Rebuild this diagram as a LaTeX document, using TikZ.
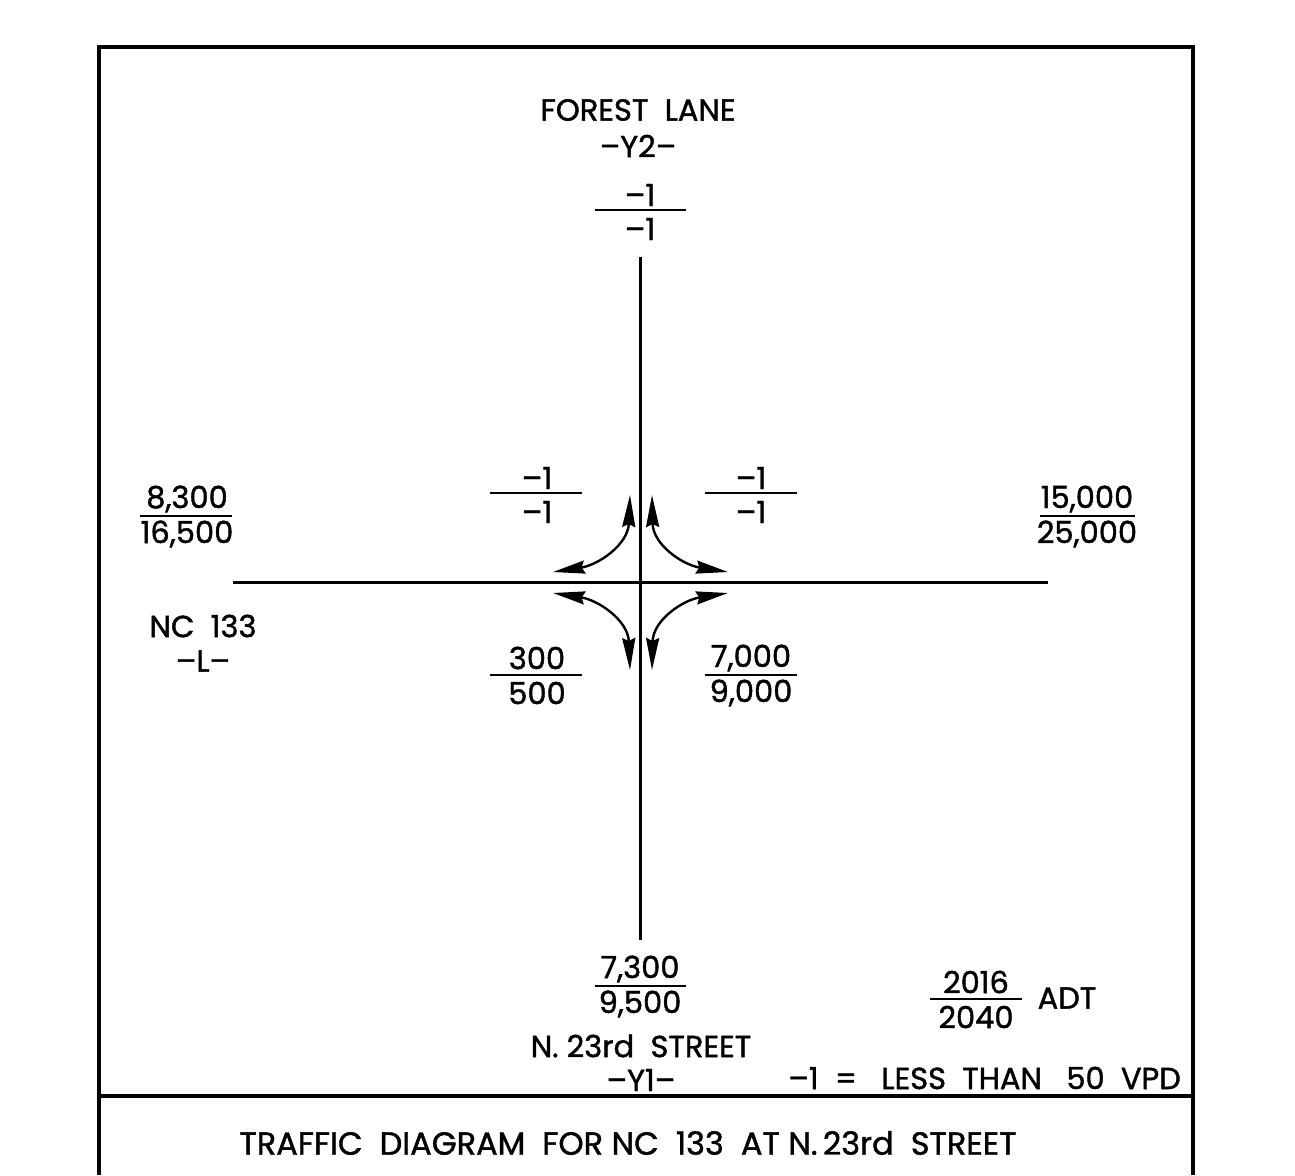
\documentclass[tikz,border=0pt]{standalone}
\usepackage{fontspec}
\setmainfont{Poppins}[FakeBold=1.3]
\usetikzlibrary{arrows.meta}
\begin{document}
\begin{tikzpicture}[x=1pt,y=-1pt,
  lbl/.style={inner sep=0pt,anchor=center,font=\fontsize{30.5}{33}\selectfont},
  road/.style={line width=3pt},
  frac/.style={line width=2.4pt},
  frame/.style={line width=3.5pt},
  turn/.style={line width=2.4pt,{Stealth[length=32pt,width=13pt,inset=3pt]}-{Stealth[length=32pt,width=13pt,inset=3pt]}}]
\useasboundingbox (0,0) rectangle (1295,1175);
\fill[white] (0,0) rectangle (1295,1175);
% frame
\draw[frame] (99,1175) -- (99,47) -- (1193,47) -- (1193,1175);
\draw[frame] (99,1096) -- (1193,1096);
% roads
\draw[road] (640,257) -- (640,940);
\draw[road] (233,582) -- (1048,582);
% turning arrows
\coordinate (nwA) at (553,572); \coordinate (nwB) at (630,495);
\coordinate (neA) at (728,572); \coordinate (neB) at (652,495);
\coordinate (swA) at (553,593); \coordinate (swB) at (630,670);
\coordinate (seA) at (728,593); \coordinate (seB) at (652,670);
\draw[turn] (nwA) .. controls (598,565) and (628,545) .. (nwB);
\draw[turn] (neA) .. controls (683,565) and (653,545) .. (neB);
\draw[turn] (swA) .. controls (598,600) and (628,620) .. (swB);
\draw[turn] (seA) .. controls (683,600) and (653,620) .. (seB);
% titles
\node[lbl] (forest) at (638,110) {FOREST\ \ LANE};
\node[lbl] (y2) at (638,146) {--Y2--};
\node[lbl] (nc) at (203,626) {NC\ \ 133};
\node[lbl] (l) at (203,661) {--L--};
\node[lbl] (n23) at (641,1046) {N. 23rd\ \ STREET};
\node[lbl] (y1) at (641,1080) {--Y1--};
% fractions
\node[lbl] (tn) at (640,195) {--1}; \draw[frac] (595,210) -- (686,210); \node[lbl] (td) at (640,229) {--1};
\node[lbl] (wn) at (187,499) {8,300}; \draw[frac] (140,516) -- (232,516); \node[lbl] (wd) at (187,534) {16,500};
\node[lbl] (en) at (1087,499) {15,000}; \draw[frac] (1040,516) -- (1135,516); \node[lbl] (ed) at (1087,534) {25,000};
\node[lbl] (nwn) at (537,478) {--1}; \draw[frac] (490,493) -- (582,493); \node[lbl] (nwd) at (537,512) {--1};
\node[lbl] (nen) at (751,478) {--1}; \draw[frac] (705,493) -- (797,493); \node[lbl] (ned) at (751,512) {--1};
\node[lbl] (swn) at (537,658) {300}; \draw[frac] (490,675) -- (582,675); \node[lbl] (swd) at (537,693) {500};
\node[lbl] (sen) at (751,658) {7,000}; \draw[frac] (705,675) -- (797,675); \node[lbl] (sed) at (751,693) {9,000};
\node[lbl] (bn) at (640,969) {7,300}; \draw[frac] (595,986) -- (686,986); \node[lbl] (bd) at (640,1004) {9,500};
\node[lbl] (yn) at (976,982) {2016}; \draw[frac] (930,999) -- (1022,999); \node[lbl] (yd) at (976,1017) {2040};
\node[lbl] (adt) at (1067,998) {ADT};
\node[lbl,anchor=east] (legend) at (1181,1078) {--1\ \ =\ \ \ LESS\ \ THAN\ \ \ 50\ \ VPD};
\node[lbl,font=\fontsize{32}{34}\selectfont] (title) at (628,1143) {TRAFFIC\ \ DIAGRAM\ \ FOR\ NC\ \ 133\ \ AT\ N.\,23rd\ \ STREET};
\end{tikzpicture}
\end{document}
